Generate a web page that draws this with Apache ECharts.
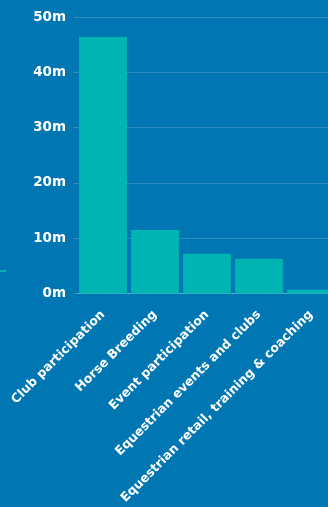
<!DOCTYPE html>
<html>
<head>
<meta charset="utf-8">
<script src="https://cdn.jsdelivr.net/npm/echarts@6/dist/echarts.min.js"></script>
<style>
  html, body { margin: 0; padding: 0; background: #0077b3; overflow: hidden; }
  #chart { width: 338px; height: 507px; }
</style>
</head>
<body>
<div id="chart"></div>
<script>
const categories = [
  'Club participation',
  'Horse Breeding',
  'Event participation',
  'Equestrian events and clubs',
  'Equestrian retail, training & coaching'
];
const values = [46.4, 11.5, 7.2, 6.3, 0.7];

const chart = echarts.init(document.getElementById('chart'));

chart.setOption({
  backgroundColor: '#0077b3',
  animation: false,
  textStyle: { fontFamily: 'DejaVu Sans' },
  grid: { left: 77, right: 1, top: 17, bottom: 212, containLabel: false },
  xAxis: {
    type: 'category',
    data: categories,
    axisLine: { show: true, lineStyle: { color: '#4fb0c8', width: 1 } },
    axisTick: { show: false },
    axisLabel: {
      interval: 0,
      rotate: 45,
      color: '#ffffff',
      fontSize: 12.5,
      fontWeight: 'bold',
      margin: 19
    }
  },
  yAxis: {
    type: 'value',
    min: 0,
    max: 50,
    interval: 10,
    axisLine: { show: false },
    axisTick: { show: true, length: 3, lineStyle: { color: '#2f8fc2' } },
    splitLine: { show: true, lineStyle: { color: '#2b8bbf', width: 1 } },
    axisLabel: {
      color: '#ffffff',
      fontSize: 13.5,
      fontWeight: 'bold',
      margin: 11,
      formatter: '{value}m'
    }
  },
  series: [{
    type: 'bar',
    data: values,
    barCategoryGap: '8%',
    itemStyle: { color: '#00b4b4' }
  }],
  graphic: [{
    type: 'rect',
    shape: { x: 0, y: 270, width: 6, height: 2 },
    style: { fill: '#00b4b4' }
  }]
});
</script>
</body>
</html>
